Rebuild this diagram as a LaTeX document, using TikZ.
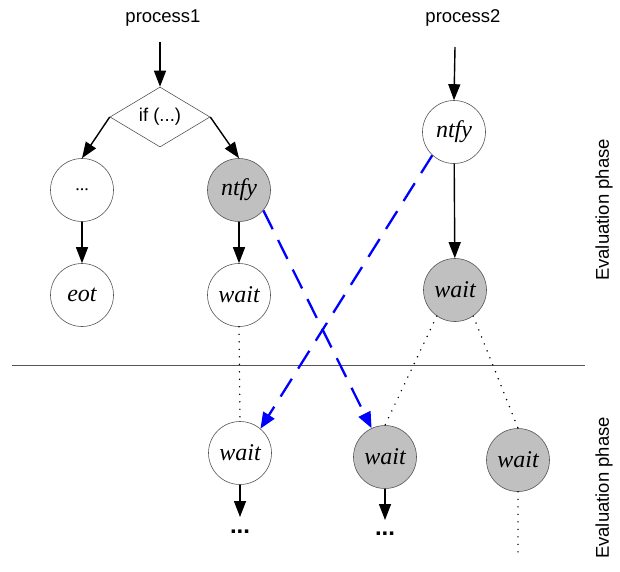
\documentclass[tikz,border=0pt]{standalone}
\usepackage{fontspec}
\setmainfont{Liberation Serif}
\setsansfont{Liberation Sans}
\usetikzlibrary{shapes.geometric,arrows.meta}
\definecolor{nodegray}{HTML}{C0C0C0}
\definecolor{linegray}{HTML}{555555}
\tikzset{
  st/.style={circle,draw=linegray,line width=0.6pt,minimum size=63pt,inner sep=0pt,font=\fontsize{24}{24}\selectfont\itshape},
  stg/.style={st,fill=nodegray},
  lbl/.style={font=\sffamily\fontsize{18.5}{18.5}\selectfont},
  arr/.style={line width=1.4pt,-{Triangle[length=16pt,width=12pt]}},
  blu/.style={draw=blue,line width=2.3pt,dash pattern=on 21pt off 12pt,-{Triangle[length=16pt,width=13pt]}},
  dot/.style={line width=1.6pt,line cap=round,dash pattern=on 0pt off 7.5pt},
  ell/.style={font=\sffamily\bfseries\fontsize{24}{24}\selectfont},
}
\begin{document}
\begin{tikzpicture}[x=1pt,y=-1pt]
\useasboundingbox (0,0) rectangle (620,571);
\node[lbl] (p1) at (163,18) {process1};
\node[lbl] (p2) at (463,18) {process2};
\coordinate (p1s) at (160,42);
\coordinate (p2s) at (455,47);
\node[diamond,draw=linegray,line width=0.6pt,minimum width=100pt,minimum height=60pt,inner sep=0pt,aspect=1.67,font=\sffamily\fontsize{18.5}{18.5}\selectfont] (if) at (160,117) {if (...)};
\node[st,font=\fontsize{18}{18}\selectfont] (dots) at (82,190) {...};
\node[st] (eot) at (82,295) {eot};
\node[stg] (ntfy1) at (239,190) {ntfy};
\node[st] (wait1) at (239,295) {wait};
\node[st] (ntfy2) at (454,132) {ntfy};
\node[stg] (wait2) at (455,290) {wait};
\node[st] (wait3) at (240,453) {wait};
\node[stg] (wait4) at (385,457) {wait};
\node[stg] (wait5) at (518,460) {wait};
\coordinate (e3) at (240,517);
\coordinate (e4) at (385,520);
\coordinate (e5) at (518,557);
\node[ell] (d3) at (240,532) {...};
\node[ell] (d4) at (385,534) {...};
\coordinate (hl) at (12,365);
\coordinate (hr) at (585,365);
\draw[linegray,line width=0.6pt] (hl) -- (hr);
\draw[arr] (p1s) -- (if.north);
\draw[arr] (p2s) -- (ntfy2.north);
\draw[arr] (if.west) -- (dots.north);
\draw[arr] (if.east) -- (ntfy1.north);
\draw[arr] (dots) -- (eot);
\draw[arr] (ntfy1) -- (wait1);
\draw[arr] (ntfy2) -- (wait2);
\draw[arr] (wait3) -- (e3);
\draw[arr] (wait4) -- (e4);
\draw[dot] (wait1.south) -- (wait3.north);
\draw[dot] (wait2.-125) -- (wait4.north);
\draw[dot] (wait2.-55) -- (wait5.north);
\draw[dot] (wait5.south) -- (e5);
\draw[blu] (ntfy1.-40) -- (wait4.115);
\draw[blu] (ntfy2.-133) -- (wait3.50);
\node[lbl,rotate=90] (ev1) at (604,210) {Evaluation phase};
\node[lbl,rotate=90] (ev2) at (604,488) {Evaluation phase};
\end{tikzpicture}
\end{document}
